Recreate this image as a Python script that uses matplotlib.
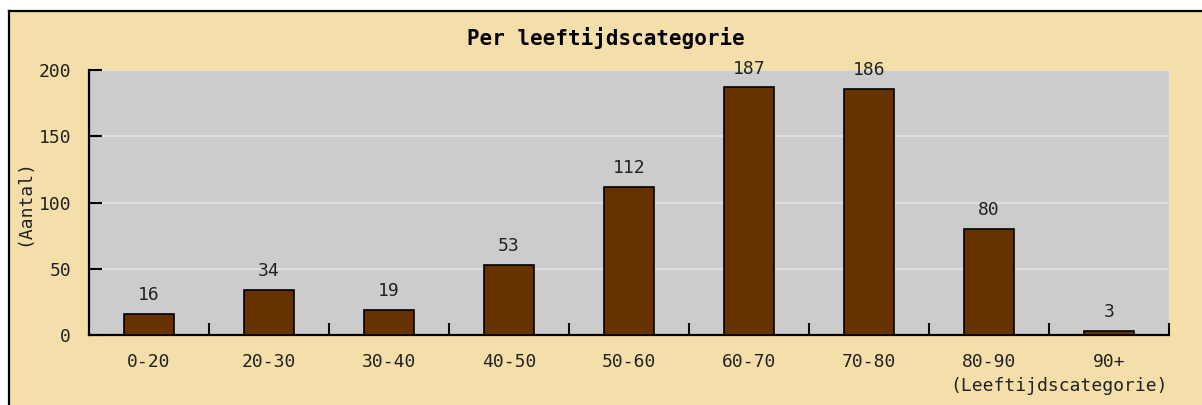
import matplotlib
matplotlib.use("Agg")
import matplotlib.pyplot as plt
from matplotlib.patches import Rectangle
from matplotlib.lines import Line2D
import numpy as np

categories = ["0-20", "20-30", "30-40", "40-50", "50-60", "60-70", "70-80", "80-90", "90+"]
counts = [16, 34, 19, 53, 112, 187, 186, 80, 3]
yticks = [0, 50, 100, 150, 200]

BEIGE = "#F4DFAA"
GRAY = "#CCCCCC"
BROWN = "#663300"
MONO = ["DejaVu Sans Mono"]

W, H = 1202, 405
fig = plt.figure(figsize=(W / 100, H / 100), dpi=100, facecolor="white")

# beige panel with black left/top border
fig.add_artist(Rectangle((9 / W, 0), 1, 1 - 11 / H, transform=fig.transFigure,
                         facecolor=BEIGE, edgecolor="none", zorder=-10))
fig.add_artist(Line2D([9 / W, 9 / W], [0, 1 - 11 / H], transform=fig.transFigure,
                      color="black", lw=1.6, zorder=-9))
fig.add_artist(Line2D([9 / W, 1], [1 - 11 / H, 1 - 11 / H], transform=fig.transFigure,
                      color="black", lw=1.6, zorder=-9))

ax = fig.add_axes([89 / W, 70 / H, (1169 - 89) / W, (335 - 70) / H])
ax.set_zorder(1)
ax.set_facecolor(GRAY)
x = np.arange(len(categories))
ax.bar(x, counts, width=0.41, color=BROWN, edgecolor="black", linewidth=1.2, zorder=3)
for xi, v in zip(x, counts):
    ax.annotate(str(v), (xi, v), textcoords="offset points", xytext=(0, 7),
                ha="center", va="bottom", fontsize=13, family=MONO, color="#222222")

ax.set_xlim(-0.5, len(categories) - 0.5)
ax.set_ylim(0, 200)
ax.set_yticks(yticks)
ax.set_yticklabels([str(t) for t in yticks], family=MONO, fontsize=13)
ax.set_xticks(x)
ax.set_xticklabels(categories, family=MONO, fontsize=13)
ax.set_xticks(np.arange(len(categories)) + 0.5, minor=True)
ax.tick_params(axis="x", which="major", length=0, pad=13, colors="#222222")
ax.tick_params(axis="x", which="minor", direction="in", length=9, width=1.5, color="black")
ax.tick_params(axis="y", direction="in", length=9, width=1.5, pad=13, colors="#222222")
ax.tick_params(axis="y", color="black")
for yt in yticks[1:]:
    ax.axhline(yt, color="#E2E2E2", lw=1.2, zorder=1)
for s in ("top", "right"):
    ax.spines[s].set_visible(False)
for s in ("left", "bottom"):
    ax.spines[s].set_linewidth(1.6)

ax.set_ylabel("(Aantal)", family=MONO, fontsize=13, color="#222222", labelpad=4)
fig.text(1168 / W, 1 - 386 / H, "(Leeftijdscategorie)", ha="right", va="center",
         family=MONO, fontsize=13, color="#222222")
fig.text(606 / W, 1 - 38 / H, "Per leeftijdscategorie", ha="center", va="center",
         family=MONO, fontsize=15, fontweight="bold", color="black")

fig.savefig("out.png", dpi=100, facecolor="white")
